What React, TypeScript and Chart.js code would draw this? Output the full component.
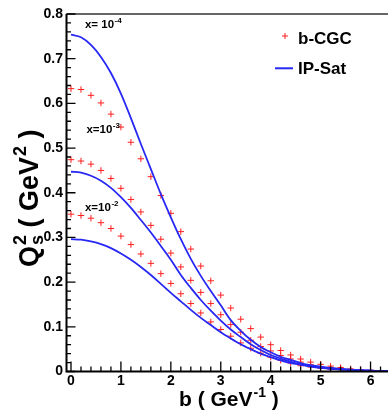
import React, { useEffect, useRef } from 'react';
import { Chart, registerables } from 'chart.js';
Chart.register(...registerables);

const FONT = '"Liberation Sans", Arial, Helvetica, sans-serif';

// impact parameter grid of the b-CGC points (GeV^-1)
const bCGC = [0, 0.2, 0.4, 0.6, 0.8, 1.0, 1.2, 1.4, 1.6, 1.8, 2.0, 2.2, 2.4, 2.6, 2.8, 3.0,
  3.2, 3.4, 3.6, 3.8, 4.0, 4.2, 4.4, 4.6, 4.8, 5.0, 5.2, 5.4, 5.6, 5.8, 6.0, 6.2];
const cgcX4 = [0.633, 0.631, 0.618, 0.601, 0.576, 0.547, 0.513, 0.476, 0.436, 0.394, 0.354, 0.313,
  0.274, 0.236, 0.203, 0.171, 0.142, 0.117, 0.096, 0.077, 0.060, 0.047, 0.037, 0.028, 0.021, 0.016,
  0.012, 0.009, 0.006, 0.004, 0.003, 0.002];
const cgcX3 = [0.474, 0.471, 0.464, 0.450, 0.432, 0.410, 0.385, 0.357, 0.327, 0.296, 0.265, 0.234,
  0.204, 0.177, 0.152, 0.127, 0.105, 0.088, 0.070, 0.056, 0.046, 0.036, 0.028, 0.021, 0.015, 0.011,
  0.008, 0.006, 0.004, 0.003, 0.002, 0.001];
const cgcX2 = [0.352, 0.349, 0.343, 0.333, 0.320, 0.303, 0.284, 0.263, 0.242, 0.219, 0.197, 0.174,
  0.152, 0.131, 0.111, 0.094, 0.079, 0.064, 0.052, 0.041, 0.032, 0.025, 0.019, 0.013, 0.010, 0.007,
  0.005, 0.004, 0.003, 0.002, 0.001, 0.001];

// impact parameter grid of the IP-Sat curves
const bIPSat = [0, 0.2, 0.4, 0.6, 0.8, 1.0, 1.2, 1.4, 1.6, 1.8, 2.0, 2.2, 2.4, 2.6, 2.8, 3.0,
  3.2, 3.4, 3.6, 3.8, 4.0, 4.2, 4.4, 4.6, 4.8, 5.0, 5.2, 5.4, 5.6, 5.8, 6.0, 6.2, 6.4];
const ipsatX4 = [0.754, 0.748, 0.731, 0.704, 0.668, 0.622, 0.567, 0.509, 0.453, 0.397, 0.345, 0.296,
  0.252, 0.214, 0.180, 0.148, 0.115, 0.091, 0.071, 0.055, 0.043, 0.033, 0.026, 0.019, 0.014, 0.011,
  0.008, 0.006, 0.004, 0.003, 0.002, 0.001, 0.001];
const ipsatX3 = [0.447, 0.445, 0.438, 0.427, 0.411, 0.390, 0.366, 0.339, 0.311, 0.281, 0.250, 0.216,
  0.187, 0.160, 0.136, 0.114, 0.094, 0.077, 0.061, 0.048, 0.037, 0.029, 0.022, 0.016, 0.012, 0.009,
  0.007, 0.005, 0.003, 0.002, 0.002, 0.001, 0.001];
const ipsatX2 = [0.296, 0.295, 0.291, 0.285, 0.276, 0.264, 0.250, 0.234, 0.216, 0.196, 0.176, 0.157,
  0.138, 0.120, 0.104, 0.088, 0.074, 0.061, 0.050, 0.040, 0.032, 0.025, 0.019, 0.015, 0.011, 0.008,
  0.006, 0.005, 0.003, 0.002, 0.002, 0.001, 0.001];

const xTicks = [0, 1, 2, 3, 4, 5, 6];
const xTickLabels = ['0', '1', '2', '3', '4', '5', '6'];
const yTicks = [0, 0.1, 0.2, 0.3, 0.4, 0.5, 0.6, 0.7, 0.8];
const yTickLabels = ['0', '0.1', '0.2', '0.3', '0.4', '0.5', '0.6', '0.7', '0.8'];

const legendLabels = ['b-CGC', 'IP-Sat'];
const xLabels = [
  { base: 'x= 10', sup: '-4', b: 0.28, q: 0.768 },
  { base: 'x=10', sup: '-3', b: 0.31, q: 0.534 },
  { base: 'x=10', sup: '-2', b: 0.28, q: 0.360 },
];

const X_MIN = -0.09;
const X_MAX = 6.53;
const W = 402;
const H = 410;

const RED = 'rgb(255,30,30)';
const BLUE = 'rgb(40,40,245)';

const pts = (xs: number[], ys: number[]) => ys.map((y, i) => ({ x: xs[i], y }));

const framePlugin = {
  id: 'rootFrame',
  afterDraw(chart: any) {
    const { ctx, chartArea: a, scales } = chart;
    const xs = scales.x;
    const ys = scales.y;
    ctx.save();
    // top frame line
    ctx.strokeStyle = '#333';
    ctx.lineWidth = 1.5;
    ctx.beginPath();
    ctx.moveTo(a.left, a.top);
    ctx.lineTo(a.right, a.top);
    ctx.stroke();
    // axes
    ctx.strokeStyle = '#000';
    ctx.lineWidth = 2;
    ctx.beginPath();
    ctx.moveTo(a.left, a.top);
    ctx.lineTo(a.left, a.bottom);
    ctx.lineTo(a.right, a.bottom);
    ctx.stroke();
    // ticks
    ctx.lineWidth = 1.3;
    ctx.beginPath();
    for (let i = 0; i <= 40; i++) {
      const v = i * 0.02;
      const py = ys.getPixelForValue(v);
      const len = i % 5 === 0 ? 9 : 4.5;
      ctx.moveTo(a.left, py);
      ctx.lineTo(a.left + len, py);
    }
    for (let i = 0; i <= 32; i++) {
      const v = i * 0.2;
      if (v > X_MAX) break;
      const px = xs.getPixelForValue(v);
      const len = i % 5 === 0 ? 10 : 5;
      ctx.moveTo(px, a.bottom);
      ctx.lineTo(px, a.bottom - len);
    }
    ctx.stroke();

    ctx.fillStyle = '#000';
    ctx.textBaseline = 'alphabetic';
    ctx.textAlign = 'left';

    // annotations
    for (const l of xLabels) {
      const px = xs.getPixelForValue(l.b);
      const py = ys.getPixelForValue(l.q);
      ctx.font = `bold 11.5px ${FONT}`;
      ctx.fillText(l.base, px, py);
      const w = ctx.measureText(l.base).width;
      ctx.font = `bold 8px ${FONT}`;
      ctx.fillText(l.sup, px + w + 0.5, py - 5);
    }

    // x title
    {
      let x = 179;
      const y = 406;
      ctx.font = `bold 21px ${FONT}`;
      ctx.fillText('b ( GeV', x, y);
      x += ctx.measureText('b ( GeV').width + 1;
      ctx.font = `bold 14px ${FONT}`;
      ctx.fillText('-1', x, y - 9);
      x += ctx.measureText('-1').width;
      ctx.font = `bold 21px ${FONT}`;
      ctx.fillText(' )', x, y);
    }

    // y title (rotated)
    {
      ctx.save();
      ctx.translate(38, 267);
      ctx.rotate(-Math.PI / 2);
      let x = 0;
      ctx.font = `bold 27px ${FONT}`;
      ctx.fillText('Q', x, 0);
      x += ctx.measureText('Q').width + 1;
      ctx.font = `bold 18px ${FONT}`;
      ctx.fillText('2', x, -12);
      ctx.fillText('s', x, 5);
      x += Math.max(ctx.measureText('2').width, ctx.measureText('s').width);
      ctx.font = `bold 27px ${FONT}`;
      ctx.fillText(' ( GeV', x, 0);
      x += ctx.measureText(' ( GeV').width + 1;
      ctx.font = `bold 18px ${FONT}`;
      ctx.fillText('2', x, -12);
      x += ctx.measureText('2').width;
      ctx.font = `bold 27px ${FONT}`;
      ctx.fillText(' )', x, 0);
      ctx.restore();
    }

    // legend
    ctx.strokeStyle = RED;
    ctx.lineWidth = 1;
    ctx.beginPath();
    ctx.moveTo(282, 36);
    ctx.lineTo(288, 36);
    ctx.moveTo(285, 33);
    ctx.lineTo(285, 39);
    ctx.stroke();
    ctx.strokeStyle = BLUE;
    ctx.lineWidth = 2;
    ctx.beginPath();
    ctx.moveTo(275, 68.3);
    ctx.lineTo(293, 68.3);
    ctx.stroke();
    ctx.fillStyle = '#000';
    ctx.font = `bold 17px ${FONT}`;
    ctx.textBaseline = 'middle';
    ctx.fillText(legendLabels[0], 298, 39);
    ctx.fillText(legendLabels[1], 298, 69);
    ctx.restore();
  },
};

export default function App() {
  const ref = useRef<HTMLCanvasElement>(null);
  useEffect(() => {
    const canvas = ref.current;
    if (!canvas) return;
    const lineDs = (ys: number[]) => ({
      type: 'line' as const,
      data: pts(bIPSat, ys),
      showLine: true,
      borderColor: BLUE,
      borderWidth: 1.8,
      pointRadius: 0,
      fill: false,
      cubicInterpolationMode: 'monotone' as const,
    });
    const crossDs = (ys: number[]) => ({
      type: 'scatter' as const,
      data: pts(bCGC, ys),
      showLine: false,
      pointStyle: 'cross' as const,
      pointRadius: 3.2,
      pointBorderWidth: 1,
      pointBorderColor: RED,
      pointBackgroundColor: RED,
      borderColor: RED,
    });
    const chart = new Chart(canvas, {
      type: 'scatter',
      data: {
        datasets: [
          lineDs(ipsatX4), lineDs(ipsatX3), lineDs(ipsatX2),
          crossDs(cgcX4), crossDs(cgcX3), crossDs(cgcX2),
        ] as any,
      },
      options: {
        responsive: false,
        animation: false,
        devicePixelRatio: 1,
        events: [],
        layout: { padding: { top: 14, right: 0, left: 0, bottom: 0 } },
        plugins: { legend: { display: false }, tooltip: { enabled: false } },
        scales: {
          x: {
            type: 'linear',
            min: X_MIN,
            max: X_MAX,
            grid: { display: false, drawTicks: false },
            border: { display: false },
            afterBuildTicks: (s: any) => { s.ticks = xTicks.map((v) => ({ value: v })); },
            afterFit: (s: any) => { s.height = 38.5; },
            ticks: {
              autoSkip: false,
              maxRotation: 0,
              padding: 1,
              color: '#000',
              font: { family: FONT, size: 14, weight: 'bold' },
              callback: (_v: any, i: number) => xTickLabels[i],
            },
          },
          y: {
            type: 'linear',
            min: 0,
            max: 0.8,
            grid: { display: false, drawTicks: false },
            border: { display: false },
            afterBuildTicks: (s: any) => { s.ticks = yTicks.map((v) => ({ value: v })); },
            afterFit: (s: any) => { s.width = 66.5; },
            ticks: {
              autoSkip: false,
              padding: 3.5,
              color: '#000',
              font: { family: FONT, size: 14, weight: 'bold' },
              callback: (_v: any, i: number) => yTickLabels[i],
            },
          },
        },
      } as any,
      plugins: [framePlugin],
    });
    return () => chart.destroy();
  }, []);
  return (
    <div style={{ position: 'absolute', left: 0, top: 0, width: 388, height: 410, overflow: 'hidden', background: '#fff' }}>
      <canvas ref={ref} width={W} height={H} style={{ display: 'block', width: W, height: H }} />
    </div>
  );
}
